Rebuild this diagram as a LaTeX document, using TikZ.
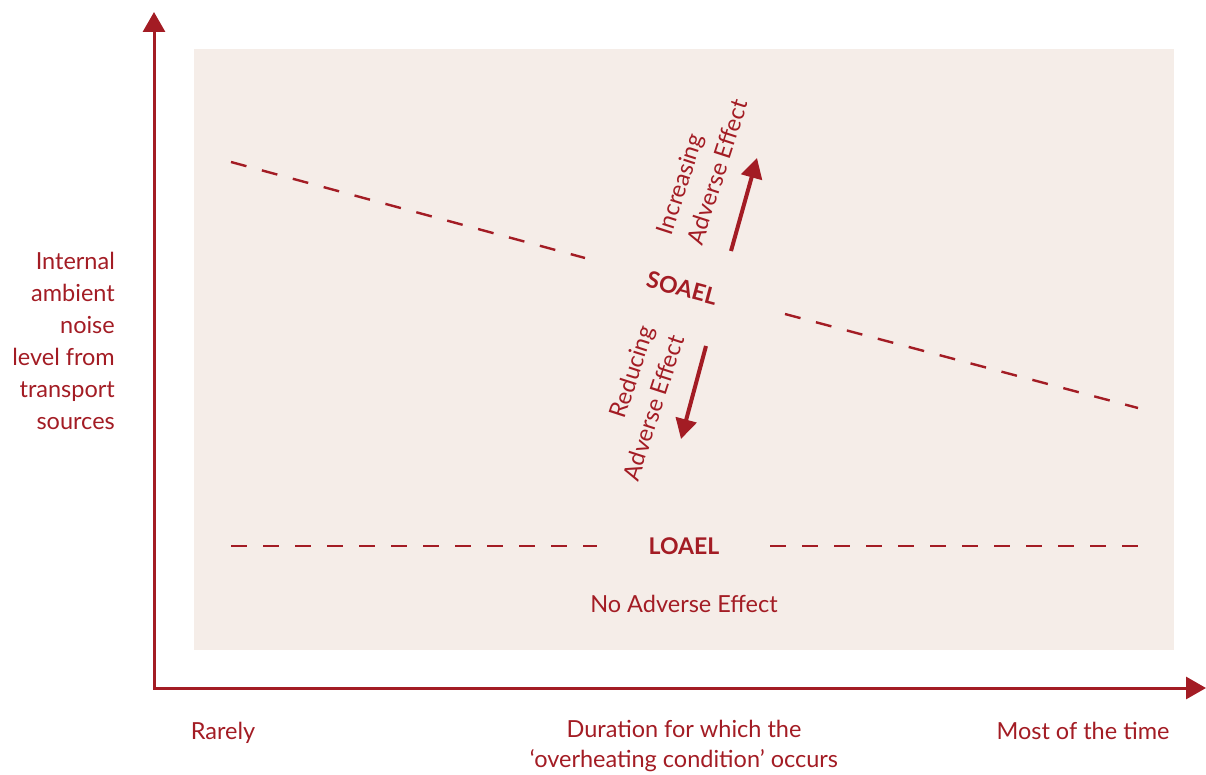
\documentclass[tikz,border=0pt]{standalone}
\usepackage{fontspec}
\setmainfont{Lato}
\usetikzlibrary{
  positioning,
  arrows.meta
}
\definecolor{noisered}{RGB}{163,28,36}
\definecolor{panelfill}{RGB}{245,237,232}
\tikzset{
  x=1pt, y=-1pt,
  every node/.style={text=noisered, inner sep=0pt, font=\fontsize{23.5}{32}\selectfont},
  axis/.style={draw=noisered, line width=3pt,
    {Triangle[length=20pt,width=22pt]}-{Triangle[length=20pt,width=22pt]}},
  limit/.style={draw=noisered, line width=2.4pt, dash pattern=on 16pt off 16pt},
  effect/.style={draw=noisered, line width=4pt, -{Triangle[length=20pt,width=21pt]}},
  level/.style={font=\fontsize{23}{32}\selectfont\bfseries}
}

\begin{document}
\begin{tikzpicture}
    \useasboundingbox (0,0) rectangle (1206,775);
    \fill[panelfill] (194,49) rectangle (1174,650);
    % axes
    \coordinate (ytop) at (154,12);
    \coordinate (origin) at (154,688);
    \coordinate (xend) at (1206,688);
    \draw[axis] (ytop) -- (origin) -- (xend);
    % SOAEL line
    \coordinate (s0) at (231,162);
    \coordinate (s1) at (585,258);
    \coordinate (s2) at (785,314);
    \coordinate (s3) at (1138,408);
    \draw[limit] (s0) -- (s1);
    \draw[limit] (s2) -- (s3);
    \node[level, rotate=-15] (soael) at (682,288) {SOAEL};
    % LOAEL line
    \coordinate (l0) at (231,546);
    \coordinate (l1) at (597,546);
    \coordinate (l2) at (770,546);
    \coordinate (l3) at (1138,546);
    \draw[limit] (l0) -- (l1);
    \draw[limit] (l2) -- (l3);
    \node[level] (loael) at (684,546) {LOAEL};
    \node[below=40pt of loael] (noeffect) {No Adverse Effect};
    % effect arrows
    \coordinate (up0) at (731,251);
    \coordinate (up1) at (757,158);
    \coordinate (dn0) at (706,346);
    \coordinate (dn1) at (681,439);
    \draw[effect] (up0) -- (up1);
    \draw[effect] (dn0) -- (dn1);
    \node[rotate=72, align=left] (increasing) at (702,167) {Increasing\\Adverse Effect};
    \node[rotate=72, align=right] (reducing) at (638,403) {Reducing\\Adverse Effect};
    % axis labels
    \node[anchor=north east, align=right] (ylabel) at (115,252)
      {Internal\\ambient\\noise\\level from\\transport\\sources};
    \node[anchor=base] (rarely) at (223,739) {Rarely};
    \node[anchor=north, align=center, font=\fontsize{23.5}{30}\selectfont] (xlabel) at (684,720)
      {Duration for which the\\`overheating condition' occurs};
    \node[anchor=base] (mosttime) at (1083,739) {Most of the time};
  \end{tikzpicture}
\end{document}
